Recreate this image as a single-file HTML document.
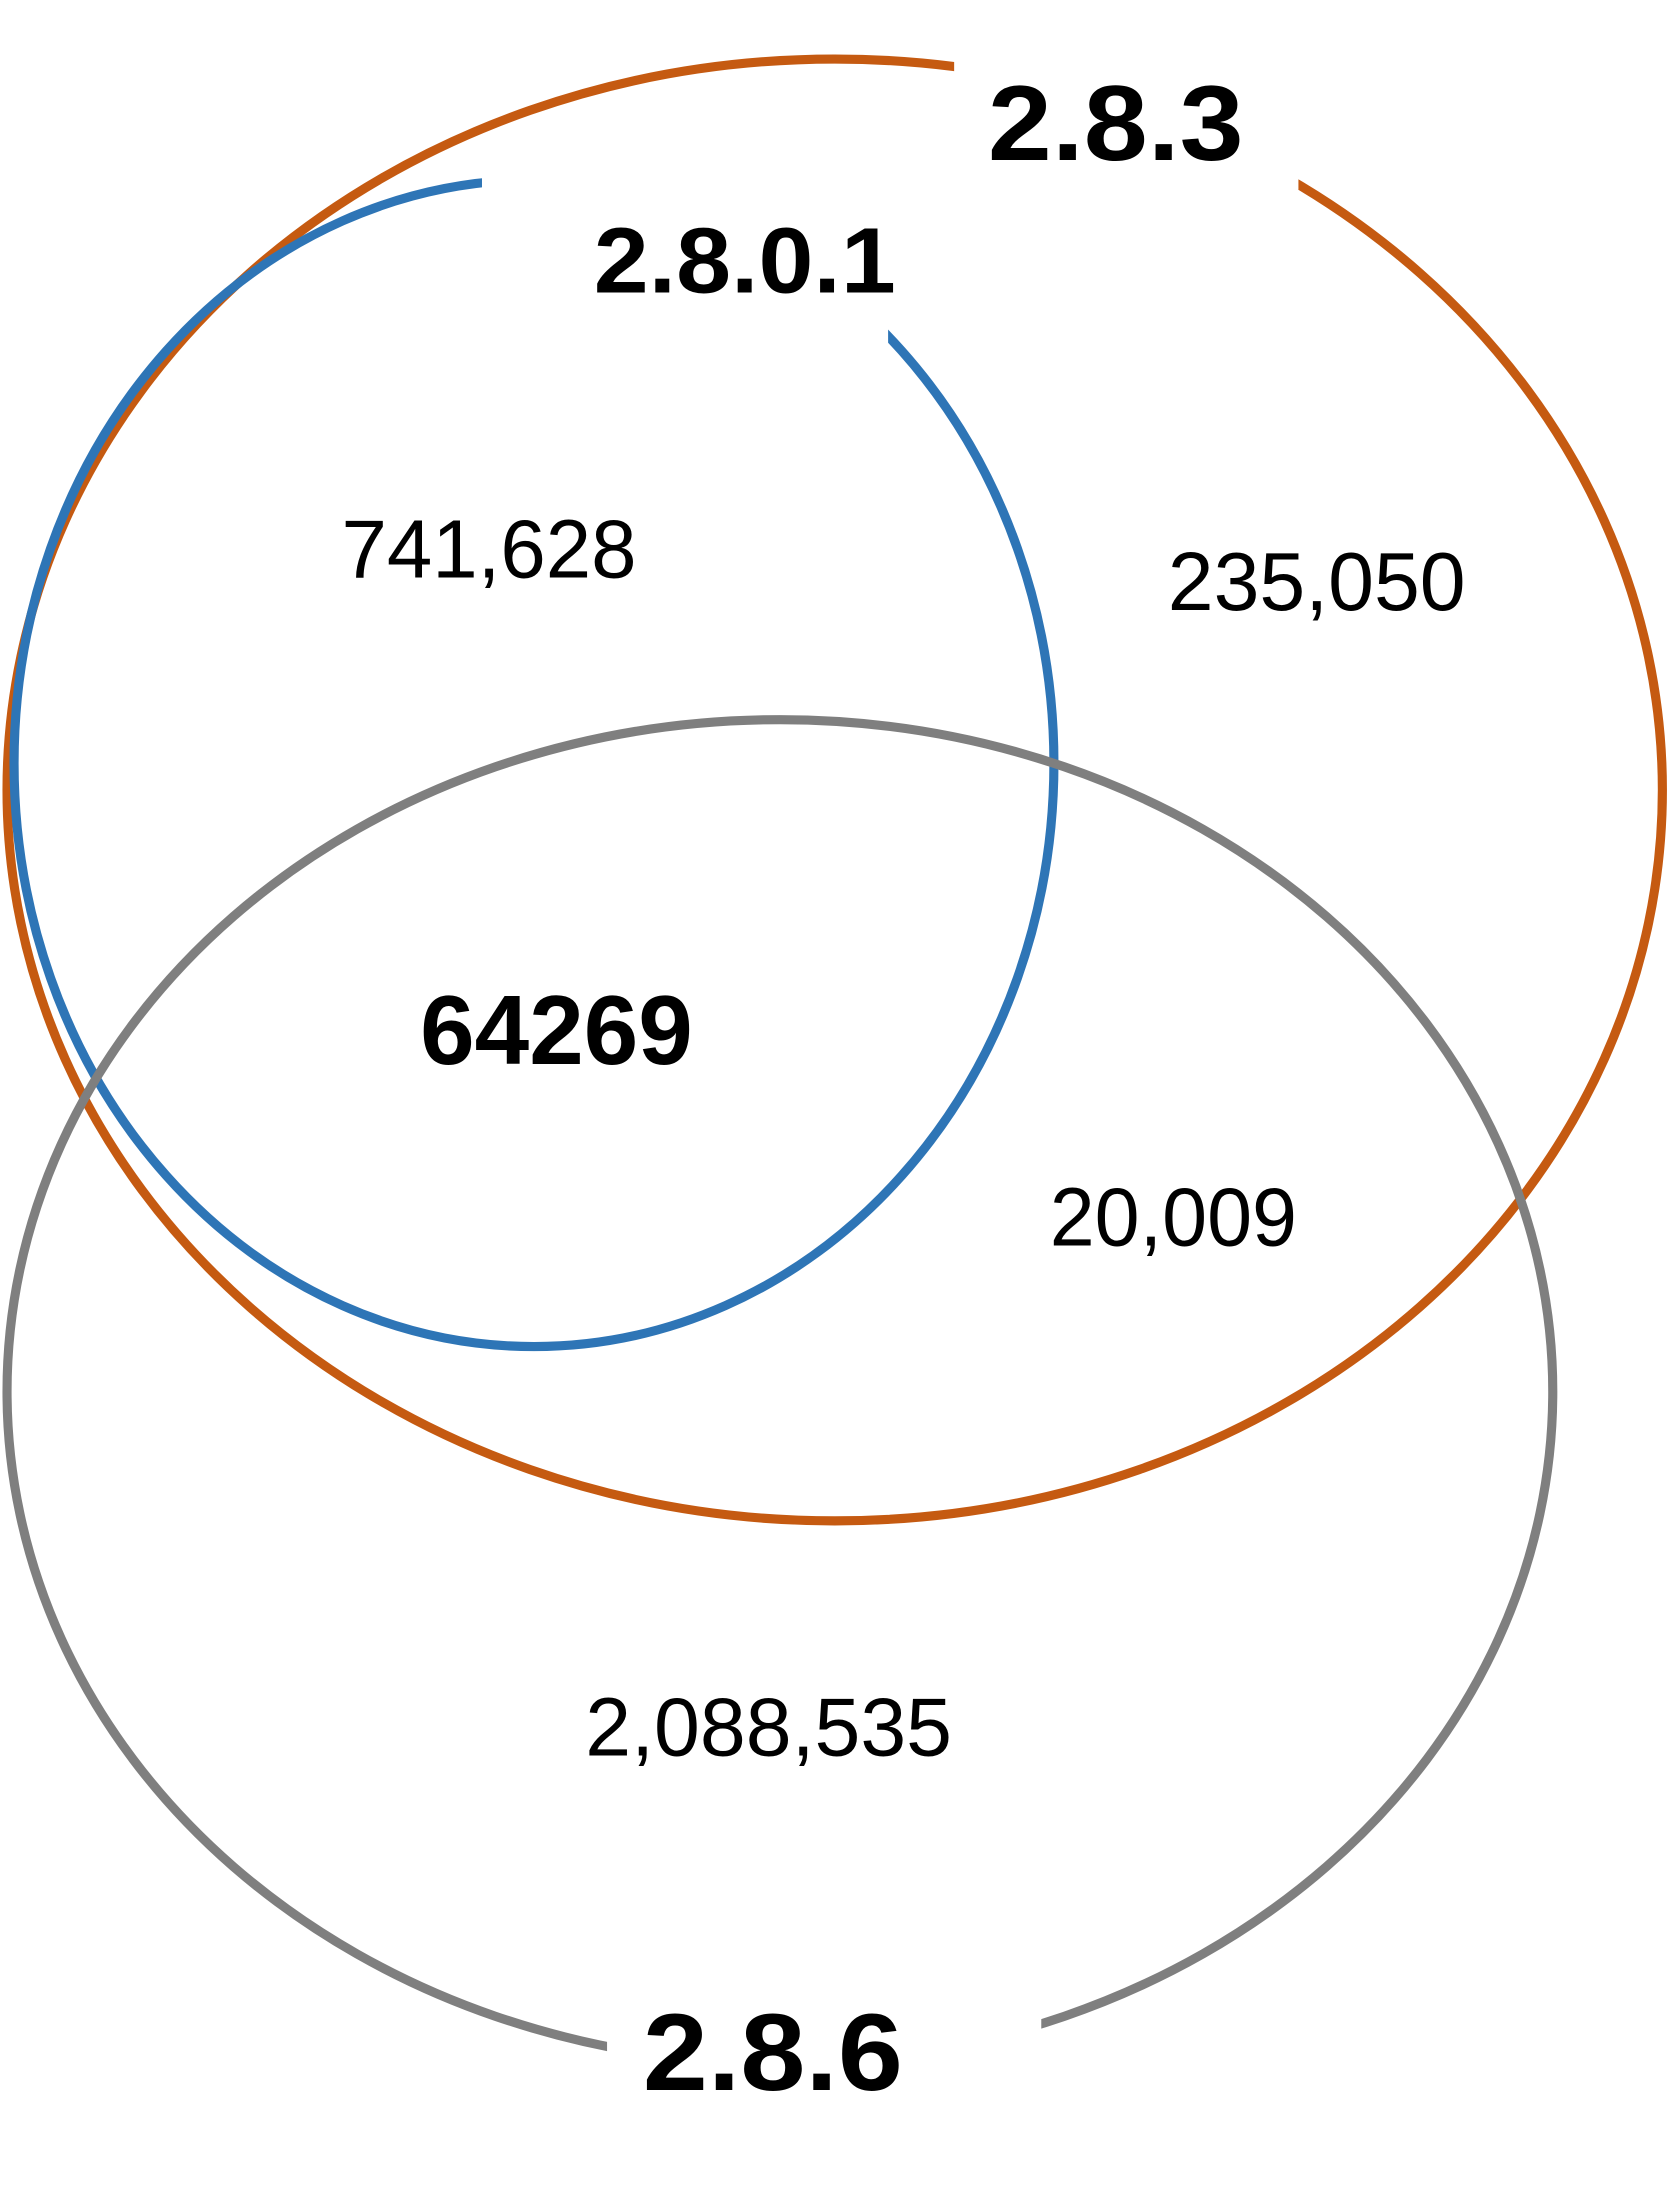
<!DOCTYPE html>
<html>
<head>
<meta charset="utf-8">
<style>
  html,body{margin:0;padding:0;background:#fff;}
  svg{display:block;}
  text{font-family:"Liberation Sans","DejaVu Sans",sans-serif;fill:#000;}
</style>
</head>
<body>
<svg id="venn" width="1668" height="2204" viewBox="0 0 1187 1568" preserveAspectRatio="none" xmlns="http://www.w3.org/2000/svg">
  <rect x="0" y="0" width="1187" height="1568" fill="#fff"/>
  <ellipse cx="594" cy="562" rx="589" ry="520" fill="none" stroke="#C55A11" stroke-width="6.5"/>
  <ellipse cx="380" cy="543" rx="370" ry="415" fill="none" stroke="#2E75B6" stroke-width="6.5"/>
  <ellipse cx="555" cy="990" rx="550" ry="478" fill="none" stroke="#7F7F7F" stroke-width="6.5"/>
  <rect x="679" y="30" width="245" height="105" fill="#fff"/>
  <rect x="343" y="108" width="289" height="140" fill="#fff"/>
  <rect x="432" y="1400" width="309" height="80" fill="#fff"/>
  <g id="labels"></g>
</svg>
<script>
const setNames = ["2.8.3", "2.8.0.1", "2.8.6"];
const regionValues = ["741,628", "235,050", "64269", "20,009", "2,088,535"];
const regionNames = ["only-2-8-0-1-and-2-8-3", "only-2-8-3", "all-three", "2-8-3-and-2-8-6", "only-2-8-6"];
const setLabelPos = [[794, 114, 76, 182], [530, 208, 66, 215], [550, 1487, 78, 185]];
const regionPos = [[348, 411, 59, "normal", 210], [937, 434, 59, "normal", 212], [396, 757, 70, "bold", 194], [835, 886, 59, "normal", 176], [547, 1249, 59, "normal", 261]];
const g = document.getElementById('labels');
const NS = "http://www.w3.org/2000/svg";
setNames.forEach((n, i) => {
  const t = document.createElementNS(NS, 'text');
  t.setAttribute('x', setLabelPos[i][0]);
  t.setAttribute('y', setLabelPos[i][1]);
  t.setAttribute('font-size', setLabelPos[i][2]);
  t.setAttribute('font-weight', 'bold');
  t.setAttribute('text-anchor', 'middle');
  t.setAttribute('textLength', setLabelPos[i][3]);
  t.setAttribute('lengthAdjust', 'spacingAndGlyphs');
  t.textContent = n;
  
  
  g.appendChild(t);
});
regionValues.forEach((v, i) => {
  const t = document.createElementNS(NS, 'text');
  t.setAttribute('x', regionPos[i][0]);
  t.setAttribute('y', regionPos[i][1]);
  t.setAttribute('font-size', regionPos[i][2]);
  t.setAttribute('font-weight', regionPos[i][3]);
  t.setAttribute('text-anchor', 'middle');
  t.setAttribute('textLength', regionPos[i][4]);
  t.setAttribute('lengthAdjust', 'spacingAndGlyphs');
  t.textContent = v;
  
  
  g.appendChild(t);
});
</script>
</body>
</html>
